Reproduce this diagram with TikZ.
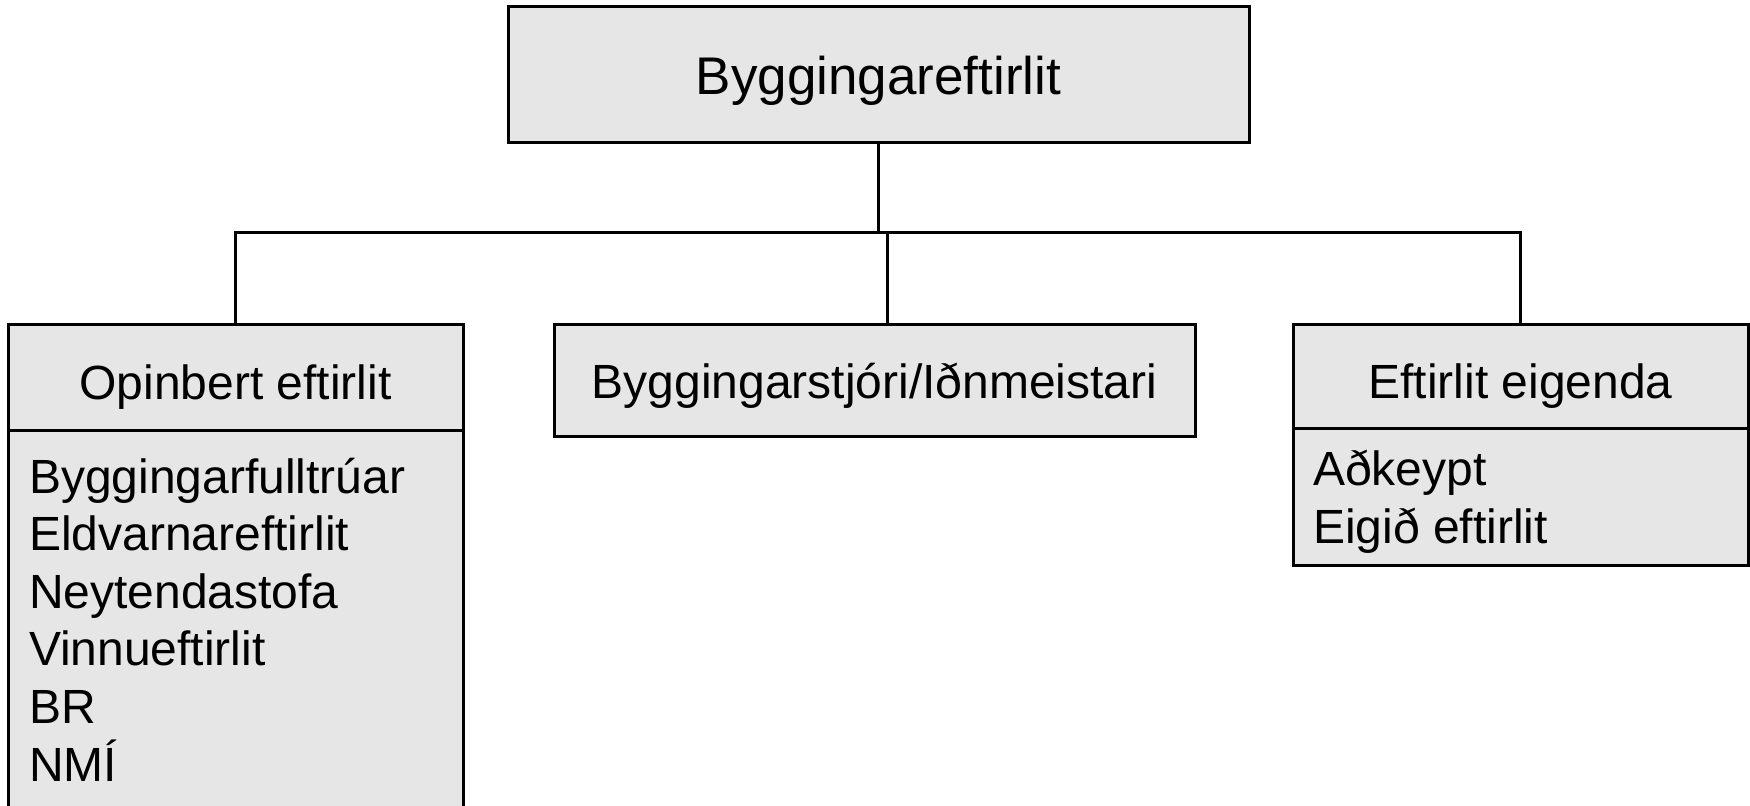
\documentclass[tikz,border=0pt]{standalone}
\usepackage{fontspec}
\setmainfont{Liberation Sans}
\usepackage{tikz}
\usetikzlibrary{positioning}

\definecolor{boxgrey}{RGB}{230,230,230}

\begin{document}
\begin{tikzpicture}[x=0.5pt, y=-0.5pt,
		box/.style={draw, fill=boxgrey, line width=1.5pt, inner sep=0pt, outer sep=0pt,
			font=\fontsize{24}{28.8}\selectfont},
		head/.style={box, text height=22pt, text depth=0pt},
		listbox/.style={box, anchor=north, inner xsep=10.5pt},
		link/.style={line width=1.5pt}]
			\useasboundingbox (0,0) rectangle (1750,806);
			\clip (0,0) rectangle (1750,806);
			\node[head, text height=20pt, minimum width=370.5pt, minimum height=68pt, font=\fontsize{26.5}{32}\selectfont] (root) at (878.5,75) {Byggingareftirlit};
			\node[head, minimum width=227.5pt, minimum height=53pt] (opin) at (235.5,377.5) {Opinbert eftirlit};
			\node[head, text height=18pt, minimum width=320.5pt, minimum height=56pt] (mid) at (874.5,381) {Byggingarstjóri/Iðnmeistari};
			\node[head, minimum width=227.5pt, minimum height=52pt] (eig) at (1520.5,377) {Eftirlit eigenda};
			\node[listbox] (opinlist) at (opin.south) {\begin{minipage}[t][200pt][t]{206.5pt}\raggedright
				\rule{0pt}{31.3pt}Byggingarfulltrúar\\
				Eldvarnareftirlit\\
				Neytendastofa\\
				Vinnueftirlit\\
				BR\\
				NMÍ\end{minipage}};
			\node[listbox, inner xsep=10pt] (eiglist) at (eig.south) {\begin{minipage}[t][68.5pt][t]{207.5pt}\raggedright
				\rule{0pt}{28.5pt}Aðkeypt\\
				Eigið eftirlit\end{minipage}};
			\coordinate (bus) at (0,233);
			\coordinate (tap) at (887,233);
			\draw[link] (root.south) -- (root.south |- bus) -| (opin.north);
			\draw[link] (root.south |- bus) -| (eig.north);
			\draw[link] (tap) -- (tap |- mid.north);
		\end{tikzpicture}
\end{document}
